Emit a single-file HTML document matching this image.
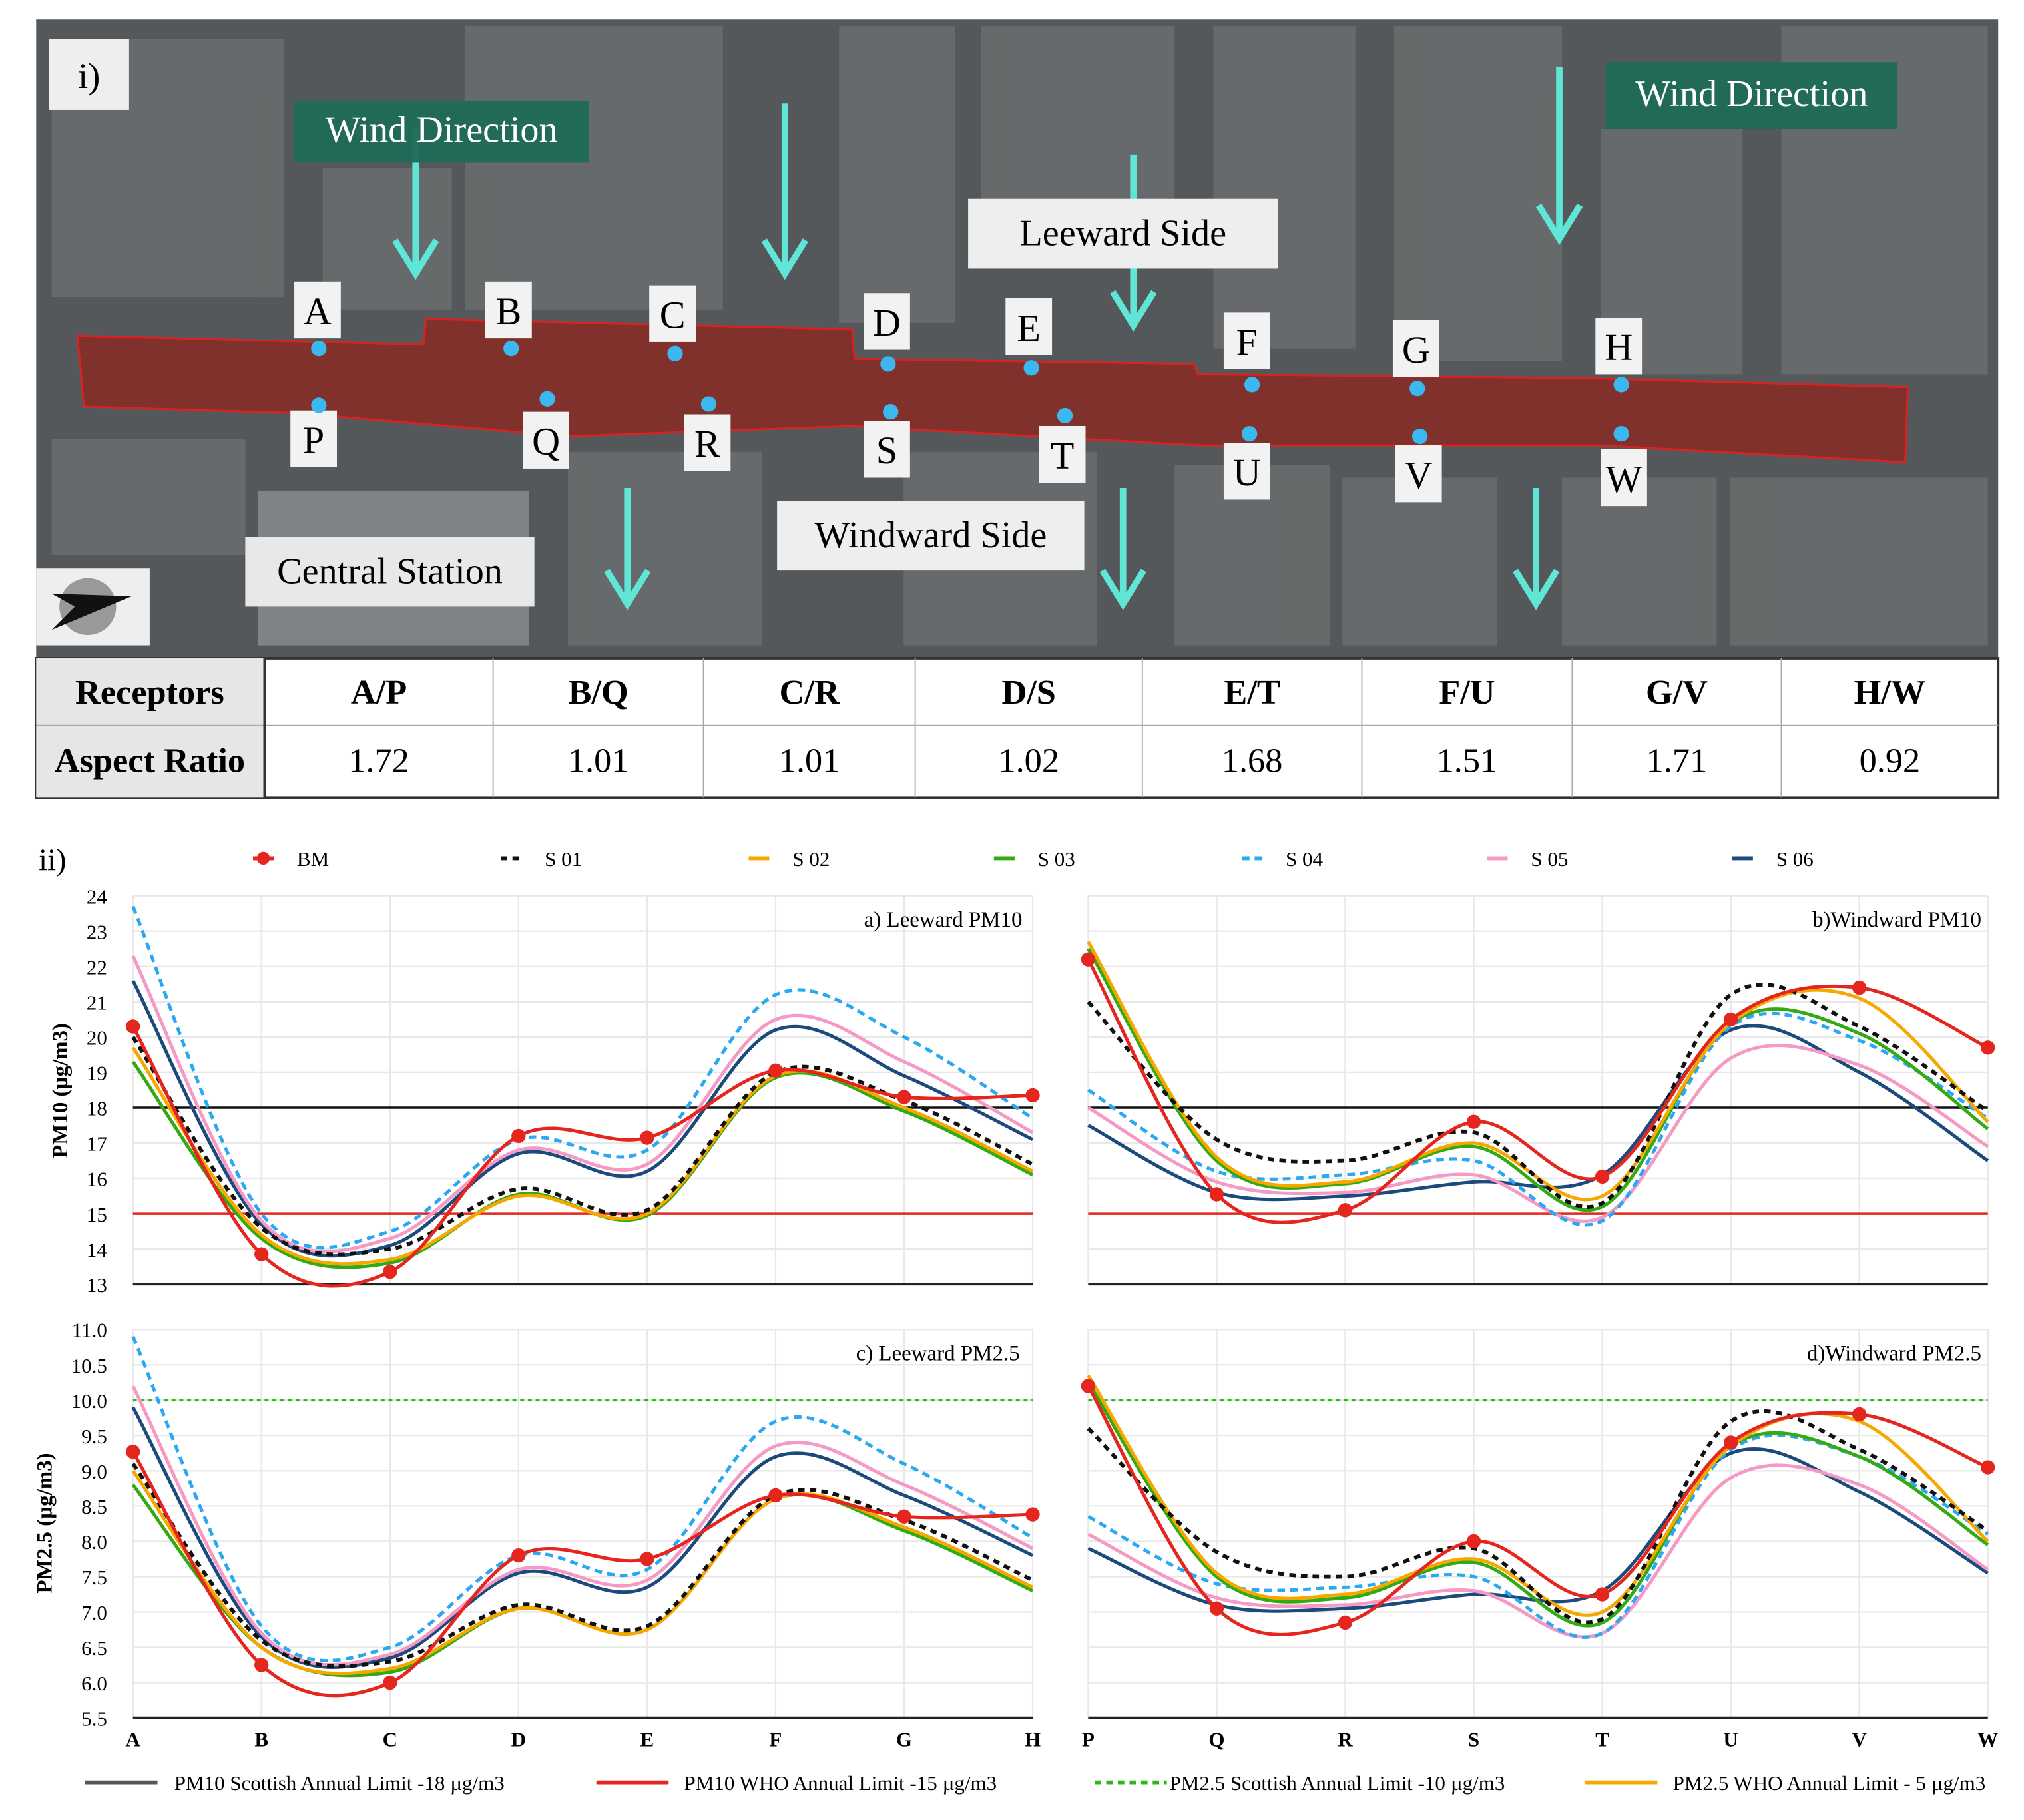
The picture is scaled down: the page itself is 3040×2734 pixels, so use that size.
<!DOCTYPE html>
<html><head><meta charset="utf-8">
<style>
html,body{margin:0;padding:0;background:#fff;}
svg{display:block;font-family:"Liberation Serif",serif;}
</style></head>
<body>
<svg id="fig" width="3040" height="2734" viewBox="0 0 1568 1410" xmlns="http://www.w3.org/2000/svg">
<rect width="1568" height="1410" fill="#fff"/>
<g id="photo">
  <rect x="28" y="15" width="1520" height="495" fill="#55585a"/>
  <g fill="#6c6f70" opacity="0.8">
    <rect x="40" y="30" width="180" height="200"/><rect x="250" y="130" width="100" height="110"/>
    <rect x="360" y="20" width="200" height="220"/><rect x="650" y="20" width="90" height="230"/>
    <rect x="760" y="20" width="150" height="140"/><rect x="940" y="20" width="110" height="250"/>
    <rect x="1080" y="20" width="130" height="260"/><rect x="1240" y="100" width="110" height="190"/>
    <rect x="1380" y="20" width="160" height="270"/><rect x="40" y="340" width="150" height="90"/>
    <rect x="200" y="380" width="210" height="120" fill="#8a8e90"/><rect x="440" y="350" width="150" height="150"/>
    <rect x="700" y="350" width="150" height="150"/><rect x="910" y="360" width="120" height="140"/>
    <rect x="1040" y="370" width="120" height="130"/><rect x="1210" y="370" width="120" height="130"/>
    <rect x="1340" y="370" width="200" height="130"/>
  </g>
  <polygon points="60,260 328,267 330,247 660,255 662,278 925,282 928,290 1230,293 1478,300 1476,358 1240,345 930,345 660,330 440,338 230,320 65,315" fill="#8a2a24" fill-opacity="0.85" stroke="#e02020" stroke-width="1.5"/>
  <rect x="38" y="30" width="62" height="55" fill="#eee"/>
  <text x="69" y="68" font-size="28" text-anchor="middle">i)</text>
  <g id="arrows" fill="none" stroke="#5fe6d6" stroke-width="5"></g>
  <rect x="228" y="78" width="228" height="48" fill="#1f6b58" opacity="0.95"/>
  <text x="342" y="110" font-size="29" fill="#fff" text-anchor="middle">Wind Direction</text>
  <rect x="1244" y="48" width="226" height="52" fill="#1f6b58" opacity="0.95"/>
  <text x="1357" y="82" font-size="29" fill="#fff" text-anchor="middle">Wind Direction</text>
  <rect x="750" y="154" width="240" height="54" fill="#eee"/>
  <text x="870" y="190" font-size="29" text-anchor="middle">Leeward Side</text>
  <rect x="602" y="388" width="238" height="54" fill="#eee"/>
  <text x="721" y="424" font-size="29" text-anchor="middle">Windward Side</text>
  <rect x="190" y="416" width="224" height="54" fill="#e8e8e8"/>
  <text x="302" y="452" font-size="29" text-anchor="middle">Central Station</text>
  <rect x="28" y="440" width="88" height="60" fill="#eee"/>
  <circle cx="68" cy="470" r="22" fill="#999"/>
  <polygon points="40,460 102,462 40,488 58,470" fill="#111"/>
  <g id="receptors"></g>
</g>
<g id="table">
  <rect x="28" y="510" width="1520" height="108" fill="#fff" stroke="#333" stroke-width="2"/>
  <rect x="28" y="510" width="177" height="108" fill="#e6e6e6"/>
  <line x1="28" y1="562" x2="1548" y2="562" stroke="#aaa"/>
  <line x1="205" y1="510" x2="205" y2="618" stroke="#333" stroke-width="2"/>
</g>
<g id="charts"></g>
</svg>
<script>
const NS="http://www.w3.org/2000/svg";
function mk(parent,tag,attrs,text){const e=document.createElementNS(NS,tag);for(const k in attrs)e.setAttribute(k,attrs[k]);if(text!==undefined)e.textContent=text;parent.appendChild(e);return e;}

// ----- data -----
const receptorsCols=["A/P","B/Q","C/R","D/S","E/T","F/U","G/V","H/W"];
const aspectRatios=["1.72","1.01","1.01","1.02","1.68","1.51","1.71","0.92"];
const leewardCats=["A","B","C","D","E","F","G","H"];
const windwardCats=["P","Q","R","S","T","U","V","W"];
const seriesNames=["BM","S 01","S 02","S 03","S 04","S 05","S 06"];

const lwPM10_BM=[20.3,13.85,13.35,17.2,17.15,19.05,18.3,18.35];
const lwPM10_S01=[20.0,14.6,14.0,15.7,15.1,19.0,18.2,16.4];
const lwPM10_S02=[19.7,14.4,13.7,15.5,15.0,18.9,18.0,16.2];
const lwPM10_S03=[19.3,14.3,13.6,15.55,14.95,18.85,17.9,16.1];
const lwPM10_S04=[23.7,15.0,14.5,17.1,16.8,21.2,20.0,17.7];
const lwPM10_S05=[22.3,14.8,14.3,16.8,16.4,20.5,19.3,17.3];
const lwPM10_S06=[21.6,14.7,14.1,16.7,16.2,20.2,18.9,17.1];

const wwPM10_BM=[22.2,15.55,15.1,17.6,16.05,20.5,21.4,19.7];
const wwPM10_S01=[21.0,17.1,16.5,17.3,15.3,21.2,20.3,17.9];
const wwPM10_S02=[22.7,16.6,15.9,17.0,15.5,20.4,21.1,17.6];
const wwPM10_S03=[22.5,16.5,15.85,16.9,15.2,20.4,20.1,17.4];
const wwPM10_S04=[18.5,16.2,16.1,16.5,14.8,20.3,19.9,17.7];
const wwPM10_S05=[18.0,15.9,15.6,16.1,14.9,19.4,19.2,16.9];
const wwPM10_S06=[17.5,15.6,15.5,15.9,16.1,20.2,19.0,16.5];

const lwPM25_BM=[9.27,6.25,6.0,7.8,7.75,8.65,8.35,8.38];
const lwPM25_S01=[9.1,6.6,6.3,7.1,6.8,8.65,8.3,7.45];
const lwPM25_S02=[9.0,6.5,6.2,7.05,6.75,8.6,8.2,7.35];
const lwPM25_S03=[8.8,6.5,6.15,7.05,6.75,8.6,8.15,7.3];
const lwPM25_S04=[10.9,6.8,6.5,7.8,7.6,9.7,9.1,8.05];
const lwPM25_S05=[10.2,6.7,6.4,7.6,7.45,9.35,8.8,7.9];
const lwPM25_S06=[9.9,6.65,6.35,7.55,7.35,9.2,8.65,7.8];

const wwPM25_BM=[10.2,7.05,6.85,8.0,7.25,9.4,9.8,9.05];
const wwPM25_S01=[9.6,7.85,7.5,7.9,6.9,9.7,9.3,8.15];
const wwPM25_S02=[10.35,7.55,7.25,7.75,7.0,9.35,9.7,8.0];
const wwPM25_S03=[10.25,7.5,7.2,7.7,6.85,9.35,9.2,7.95];
const wwPM25_S04=[8.35,7.4,7.35,7.5,6.7,9.3,9.2,8.1];
const wwPM25_S05=[8.1,7.2,7.1,7.3,6.7,8.9,8.8,7.6];
const wwPM25_S06=[7.9,7.1,7.05,7.25,7.3,9.25,8.7,7.55];

const pm10Ticks=[13,14,15,16,17,18,19,20,21,22,23,24];
const pm25Ticks=["5.5","6.0","6.5","7.0","7.5","8.0","8.5","9.0","9.5","10.0","10.5","11.0"];
const pm10Limits=[18,15];
const pm25Limits=[10];

// ----- styles -----
const styles=[
 {c:"#e5261f",w:2.6,d:null,dots:true},
 {c:"#111",w:3,d:"5 4"},
 {c:"#f7a800",w:2.6,d:null},
 {c:"#33aa14",w:2.6,d:null},
 {c:"#2aa8f2",w:2.6,d:"6 4"},
 {c:"#f59ac4",w:2.6,d:null},
 {c:"#1c4a7c",w:2.6,d:null}
];

// ----- photo receptors -----
const rec=document.getElementById('receptors');
const recLabels=[["A",246,240,247,270],["B",394,240,396,270],["C",521,243,523,274],["D",687,249,688,282],["E",797,253,799,285],["F",966,264,970,298],["G",1097,270,1098,301],["H",1254,268,1256,298],
["P",243,340,247,314],["Q",423,341,424,309],["R",548,343,549,313],["S",687,348,690,319],["T",823,352,825,322],["U",966,365,968,336],["V",1099,367,1100,338],["W",1258,370,1256,336]];
recLabels.forEach(r=>{
  const g=mk(rec,'g',{});
  
  
  mk(g,'rect',{x:r[1]-18,y:r[2]-22,width:36,height:44,fill:"#f2f2f2"});
  mk(g,'text',{x:r[1],y:r[2]+11,'font-size':30,'text-anchor':'middle'},r[0]);
  mk(g,'circle',{cx:r[3],cy:r[4],r:6,fill:"#3cb8f0"});
});
const arrowsG=document.getElementById('arrows');
[[322,100,212],[608,80,212],[878,120,252],[1208,52,185],[486,378,468],[870,378,468],[1190,378,468]].forEach(a=>{
  mk(arrowsG,'line',{x1:a[0],y1:a[1],x2:a[0],y2:a[2]});
  mk(arrowsG,'polyline',{points:`${a[0]-16},${a[2]-26} ${a[0]},${a[2]} ${a[0]+16},${a[2]-26}`});
});

// ----- table -----
const tbl=document.getElementById('table');
const colX=[205,382,545,709,885,1055,1218,1380,1548];
mk(tbl,'text',{x:116,y:545,'font-size':27,'font-weight':'bold','text-anchor':'middle'},"Receptors");
mk(tbl,'text',{x:116,y:598,'font-size':27,'font-weight':'bold','text-anchor':'middle'},"Aspect Ratio");
receptorsCols.forEach((c,i)=>{
  const cx=(colX[i]+colX[i+1])/2;
  if(i>0) mk(tbl,'line',{x1:colX[i],y1:510,x2:colX[i],y2:618,stroke:"#aaa"});
  const t=mk(tbl,'text',{x:cx,y:545,'font-size':27,'font-weight':'bold','text-anchor':'middle'},c);
  
  
  mk(tbl,'text',{x:cx,y:598,'font-size':27,'text-anchor':'middle'},aspectRatios[i]);
});

// ----- charts -----
const ch=document.getElementById('charts');
mk(ch,'text',{x:30,y:674,'font-size':24},"ii)");
const legX=[196,388,580,770,962,1152,1342];
seriesNames.forEach((n,i)=>{
  const g=mk(ch,'g',{});
  
  
  const s=styles[i];
  mk(g,'line',{x1:legX[i],y1:665,x2:legX[i]+16,y2:665,stroke:s.c,'stroke-width':3,'stroke-dasharray':s.d||'none'});
  if(s.dots) mk(g,'circle',{cx:legX[i]+8,cy:665,r:5,fill:s.c});
  mk(g,'text',{x:legX[i]+34,y:671,'font-size':16},n);
});

function smoothPath(pts){
  let d=`M${pts[0][0]},${pts[0][1]}`;
  for(let i=0;i<pts.length-1;i++){
    const p0=pts[i-1]||pts[i],p1=pts[i],p2=pts[i+1],p3=pts[i+2]||p2;
    const t=0.18*6/6;
    const c1=[p1[0]+(p2[0]-p0[0])/6,p1[1]+(p2[1]-p0[1])/6];
    const c2=[p2[0]-(p3[0]-p1[0])/6,p2[1]-(p3[1]-p1[1])/6];
    d+=` C${c1[0]},${c1[1]} ${c2[0]},${c2[1]} ${p2[0]},${p2[1]}`;
  }
  return d;
}

function chart(opt){
  const g=mk(ch,'g',{});
  
  
  const x0=opt.x0,x1=opt.x1,yTop=opt.yTop,yBot=opt.yBot;
  const vmin=opt.vmin,vmax=opt.vmax;
  const xs=i=>x0+(x1-x0)*i/(opt.cats.length-1);
  const ys=v=>yBot-(v-vmin)/(vmax-vmin)*(yBot-yTop);
  opt.ticks.forEach(t=>{
    const v=parseFloat(t);
    mk(g,'line',{x1:x0,y1:ys(v),x2:x1,y2:ys(v),stroke:"#e8e8e8",'stroke-width':1.2});
    if(opt.showY){const tl=mk(g,'text',{x:x0-20,y:ys(v)+6,'font-size':16,'text-anchor':'end'},t);
      }
  });
  opt.cats.forEach((c,i)=>{
    mk(g,'line',{x1:xs(i),y1:yTop,x2:xs(i),y2:yBot,stroke:"#e8e8e8",'stroke-width':1.2});
    if(opt.showX){const tl=mk(g,'text',{x:xs(i),y:yBot+22,'font-size':16,'font-weight':'bold','text-anchor':'middle'},c);
      }
  });
  mk(g,'line',{x1:x0,y1:yBot,x2:x1,y2:yBot,stroke:"#222",'stroke-width':2});
  opt.limits.forEach(l=>{
    const ln=mk(g,'line',{x1:x0,y1:ys(l.v),x2:x1,y2:ys(l.v),stroke:l.c,'stroke-width':l.w,'stroke-dasharray':l.d||'none'});
    
  });
  const order=[6,5,4,3,2,1,0];
  order.forEach(si=>{
    const vals=opt.series[si],s=styles[si];
    const pts=vals.map((v,i)=>[xs(i),ys(v)]);
    const p=mk(g,'path',{d:smoothPath(pts),fill:'none',stroke:s.c,'stroke-width':s.w,'stroke-dasharray':s.d||'none'});
    
    
    if(s.dots) pts.forEach(pt=>{const c=mk(g,'circle',{cx:pt[0],cy:pt[1],r:5.5,fill:s.c});
      });
  });
  const tt=mk(g,'text',{x:opt.titleX,y:yTop+24,'font-size':17,'text-anchor':'end'},opt.title);
  
}
const pm10Lim=[{v:pm10Limits[0],c:"#111",w:1.8},{v:pm10Limits[1],c:"#e5261f",w:1.8}];
const pm25Lim=[{v:pm25Limits[0],c:"#2db81a",w:2,d:"3 3"}];
chart({name:'chart-leeward-pm10',x0:103,x1:800,yTop:694,yBot:995,vmin:13,vmax:24,ticks:pm10Ticks.map(String),cats:leewardCats,showY:true,showX:false,limits:pm10Lim,title:"a) Leeward PM10",titleX:792,
 series:[lwPM10_BM,lwPM10_S01,lwPM10_S02,lwPM10_S03,lwPM10_S04,lwPM10_S05,lwPM10_S06]});
chart({name:'chart-windward-pm10',x0:843,x1:1540,yTop:694,yBot:995,vmin:13,vmax:24,ticks:pm10Ticks.map(String),cats:windwardCats,showY:false,showX:false,limits:pm10Lim,title:"b)Windward PM10",titleX:1535,
 series:[wwPM10_BM,wwPM10_S01,wwPM10_S02,wwPM10_S03,wwPM10_S04,wwPM10_S05,wwPM10_S06]});
chart({name:'chart-leeward-pm25',x0:103,x1:800,yTop:1030,yBot:1331,vmin:5.5,vmax:11,ticks:pm25Ticks,cats:leewardCats,showY:true,showX:true,limits:pm25Lim,title:"c) Leeward PM2.5",titleX:790,
 series:[lwPM25_BM,lwPM25_S01,lwPM25_S02,lwPM25_S03,lwPM25_S04,lwPM25_S05,lwPM25_S06]});
chart({name:'chart-windward-pm25',x0:843,x1:1540,yTop:1030,yBot:1331,vmin:5.5,vmax:11,ticks:pm25Ticks,cats:windwardCats,showY:false,showX:true,limits:pm25Lim,title:"d)Windward PM2.5",titleX:1535,
 series:[wwPM25_BM,wwPM25_S01,wwPM25_S02,wwPM25_S03,wwPM25_S04,wwPM25_S05,wwPM25_S06]});

const ya=mk(ch,'text',{x:0,y:0,'font-size':17,'font-weight':'bold','text-anchor':'middle',transform:'translate(52,845) rotate(-90)'},"PM10  (µg/m3)");

const yb=mk(ch,'text',{x:0,y:0,'font-size':17,'font-weight':'bold','text-anchor':'middle',transform:'translate(40,1180) rotate(-90)'},"PM2.5  (µg/m3)");


const lims=[[66,"#555","none","PM10 Scottish Annual Limit -18 µg/m3",135],[462,"#e5261f","none","PM10 WHO Annual Limit -15 µg/m3",530],[848,"#2db81a","5 4","PM2.5 Scottish Annual Limit -10 µg/m3",906],[1228,"#f7a800","none","PM2.5 WHO Annual Limit - 5 µg/m3",1296]];
lims.forEach(l=>{
  const g=mk(ch,'g',{});
  
  
  mk(g,'line',{x1:l[0],y1:1381,x2:l[0]+56,y2:1381,stroke:l[1],'stroke-width':3,'stroke-dasharray':l[2]});
  mk(g,'text',{x:l[4],y:1387,'font-size':16},l[3]);
});
</script>
</body></html>
